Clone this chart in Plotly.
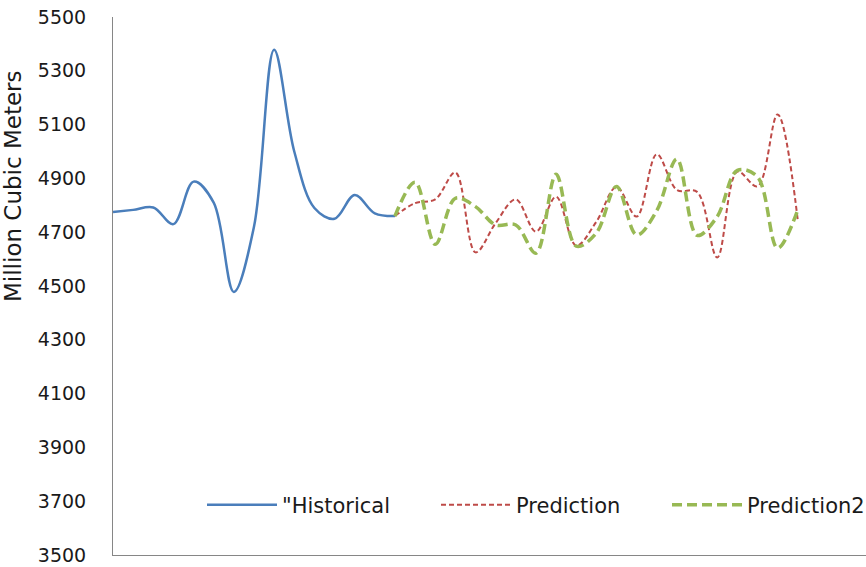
import plotly.graph_objects as go

# ---- data ----
categories = list(range(35))
historical = [4775, 4783, 4792, 4730, 4888, 4810, 4478, 4720, 5378, 5000,
              4790, 4750, 4838, 4770, 4760]
prediction = [4760, 4808, 4822, 4922, 4625, 4734, 4822, 4702, 4832, 4650,
              4739, 4868, 4758, 4990, 4857, 4850, 4606, 4925, 4870, 5138, 4745]
prediction2 = [4760, 4886, 4655, 4826, 4795, 4727, 4727, 4622, 4915, 4648,
               4697, 4870, 4690, 4780, 4972, 4688, 4758, 4930, 4906, 4641, 4783]
y_ticks = [3500, 3700, 3900, 4100, 4300, 4500, 4700, 4900, 5100, 5300, 5500]
series_names = ['"Historical', 'Prediction', 'Prediction2']
y_title = "Million Cubic Meters"

hist_x = categories[:len(historical)]
pred_x = categories[len(historical) - 1:len(historical) - 1 + len(prediction)]

FONT = "DejaVu Sans"
W, H = 866, 567
L, R, T, B = 113, 0, 17, 12
PW = W - L - R
PH = H - T - B

fig = go.Figure()
fig.add_trace(go.Scatter(
    x=hist_x, y=historical, name=series_names[0], mode="lines", legend="legend",
    line=dict(color="#4A7EBB", width=2.5, shape="spline", smoothing=1),
))
fig.add_trace(go.Scatter(
    x=pred_x, y=prediction, name=series_names[1], mode="lines", legend="legend2",
    line=dict(color="#BE4B48", width=2, dash="5px,3px", shape="spline", smoothing=1),
))
fig.add_trace(go.Scatter(
    x=pred_x, y=prediction2, name=series_names[2], mode="lines", legend="legend3",
    line=dict(color="#98B954", width=3.5, dash="10px,5px", shape="spline", smoothing=1),
))

def leg(px):
    return dict(
        orientation="h", xref="container", yref="container",
        x=px / W, xanchor="left", y=1 - 505 / H, yanchor="middle",
        font=dict(family=FONT, size=21, color="#1a1a1a"),
        itemwidth=70, bgcolor="rgba(0,0,0,0)", borderwidth=0,
    )

fig.update_layout(
    width=W, height=H,
    margin=dict(l=L, r=R, t=T, b=B, autoexpand=False),
    paper_bgcolor="white", plot_bgcolor="white",
    font=dict(family=FONT, size=19, color="#1a1a1a"),
    showlegend=True,
    legend=leg(202), legend2=leg(436), legend3=leg(667),
    xaxis=dict(
        range=[0, PW / 20.14], showgrid=False, zeroline=False,
        showline=True, linecolor="#868686", linewidth=1,
        showticklabels=False, ticks="", automargin=False,
    ),
    yaxis=dict(
        range=[3500, 5500], tickvals=y_ticks, showgrid=False, zeroline=False,
        showline=True, linecolor="#868686", linewidth=1,
        ticks="", ticklabelstandoff=22, automargin=False,
        ticklabeloverflow="allow",
        tickfont=dict(family=FONT, size=19, color="#1a1a1a"),
    ),
    annotations=[dict(
        text=y_title, textangle=-90, showarrow=False,
        xref="paper", yref="paper",
        x=(13 - L) / PW, y=(555 - 186) / PH,
        xanchor="center", yanchor="middle",
        font=dict(family=FONT, size=23, color="#1a1a1a"),
    )],
)

fig.write_html("out.html",
               config={"displayModeBar": False},
               post_script="document.body.style.margin='0';document.body.style.padding='0';")
